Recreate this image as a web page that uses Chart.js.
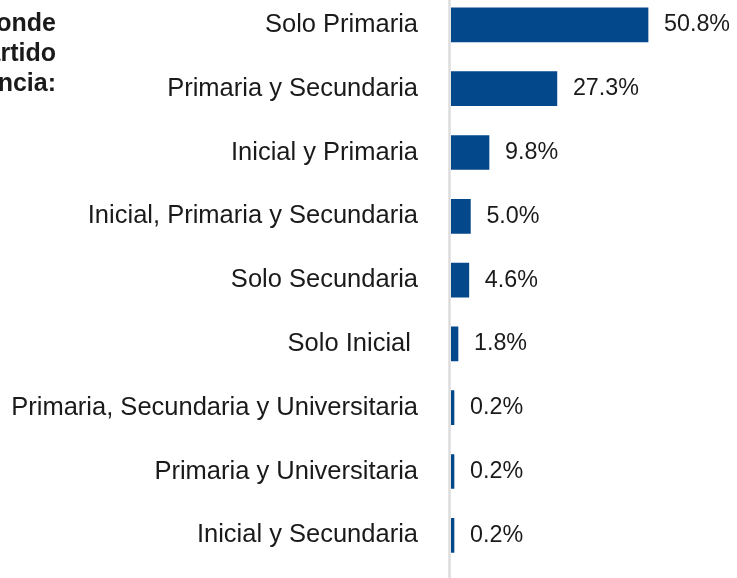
<!DOCTYPE html>
<html>
<head>
<meta charset="utf-8">
<script src="https://cdn.jsdelivr.net/npm/chart.js@4/dist/chart.umd.min.js"></script>
<style>
  html, body { margin: 0; padding: 0; background: #ffffff; }
  #wrap { position: relative; width: 737px; height: 578px; overflow: hidden; }
  #c { position: absolute; left: 0; top: -7px; }
</style>
</head>
<body>
<div id="wrap"><canvas id="c" width="737" height="600"></canvas></div>
<script>
const categories = [
  "Solo Primaria",
  "Primaria y Secundaria",
  "Inicial y Primaria",
  "Inicial, Primaria y Secundaria",
  "Solo Secundaria",
  "Solo Inicial ",
  "Primaria, Secundaria y Universitaria",
  "Primaria y Universitaria",
  "Inicial y Secundaria"
];
const values = [50.8, 27.3, 9.8, 5.0, 4.6, 1.8, 0.2, 0.2, 0.2];
const valueLabels = ["50.8%", "27.3%", "9.8%", "5.0%", "4.6%", "1.8%", "0.2%", "0.2%", "0.2%"];
const titleLines = ["Niveles donde", "ha impartido", "docencia:"];

const BAR = "#03488b";

const axisLinePlugin = {
  id: "axisLine",
  beforeDatasetsDraw(chart) {
    const ctx = chart.ctx;
    const x = chart.scales.x.getPixelForValue(0) - 1.5;
    ctx.save();
    ctx.strokeStyle = "#dcdcdc";
    ctx.lineWidth = 2.5;
    ctx.beginPath();
    ctx.moveTo(x, 0);
    ctx.lineTo(x, chart.height);
    ctx.stroke();
    ctx.restore();
  }
};

const valueLabelPlugin = {
  id: "valueLabels",
  afterDatasetsDraw(chart) {
    const ctx = chart.ctx;
    const meta = chart.getDatasetMeta(0);
    ctx.save();
    ctx.font = "23.3px 'Liberation Sans', Arial, sans-serif";
    ctx.fillStyle = "#1a1a1a";
    ctx.textAlign = "left";
    ctx.textBaseline = "middle";
    meta.data.forEach((bar, i) => {
      ctx.fillText(valueLabels[i], bar.x + 16, bar.y);
    });
    ctx.restore();
  }
};

const titlePlugin = {
  id: "sideTitle",
  afterDraw(chart) {
    const ctx = chart.ctx;
    ctx.save();
    ctx.font = "bold 25px 'Liberation Sans', Arial, sans-serif";
    ctx.fillStyle = "#1a1a1a";
    ctx.textAlign = "right";
    ctx.textBaseline = "alphabetic";
    titleLines.forEach((t, i) => {
      ctx.fillText(t, 56, 38 + i * 30);
    });
    ctx.restore();
  }
};

new Chart(document.getElementById("c"), {
  type: "bar",
  data: {
    labels: categories,
    datasets: [{
      data: values,
      backgroundColor: BAR,
      borderWidth: 0,
      barThickness: 34,
      minBarLength: 3
    }]
  },
  options: {
    indexAxis: "y",
    responsive: false,
    animation: false,
    layout: { padding: { left: 0, right: 14.5, top: 0, bottom: 25.8 } },
    plugins: {
      legend: { display: false },
      tooltip: { enabled: false }
    },
    scales: {
      x: {
        display: false,
        min: 0,
        max: 70
      },
      y: {
        offset: true,
        border: { display: false },
        grid: { display: false, drawTicks: false },
        ticks: {
          padding: 33,
          color: "#1a1a1a",
          font: { family: "'Liberation Sans', Arial, sans-serif", size: 25.5 }
        },
        afterFit(scale) {
          scale.width = 451;
          scale.paddingTop = 0;
          scale.paddingBottom = 0;
        }
      }
    }
  },
  plugins: [axisLinePlugin, valueLabelPlugin, titlePlugin]
});
</script>
</body>
</html>
